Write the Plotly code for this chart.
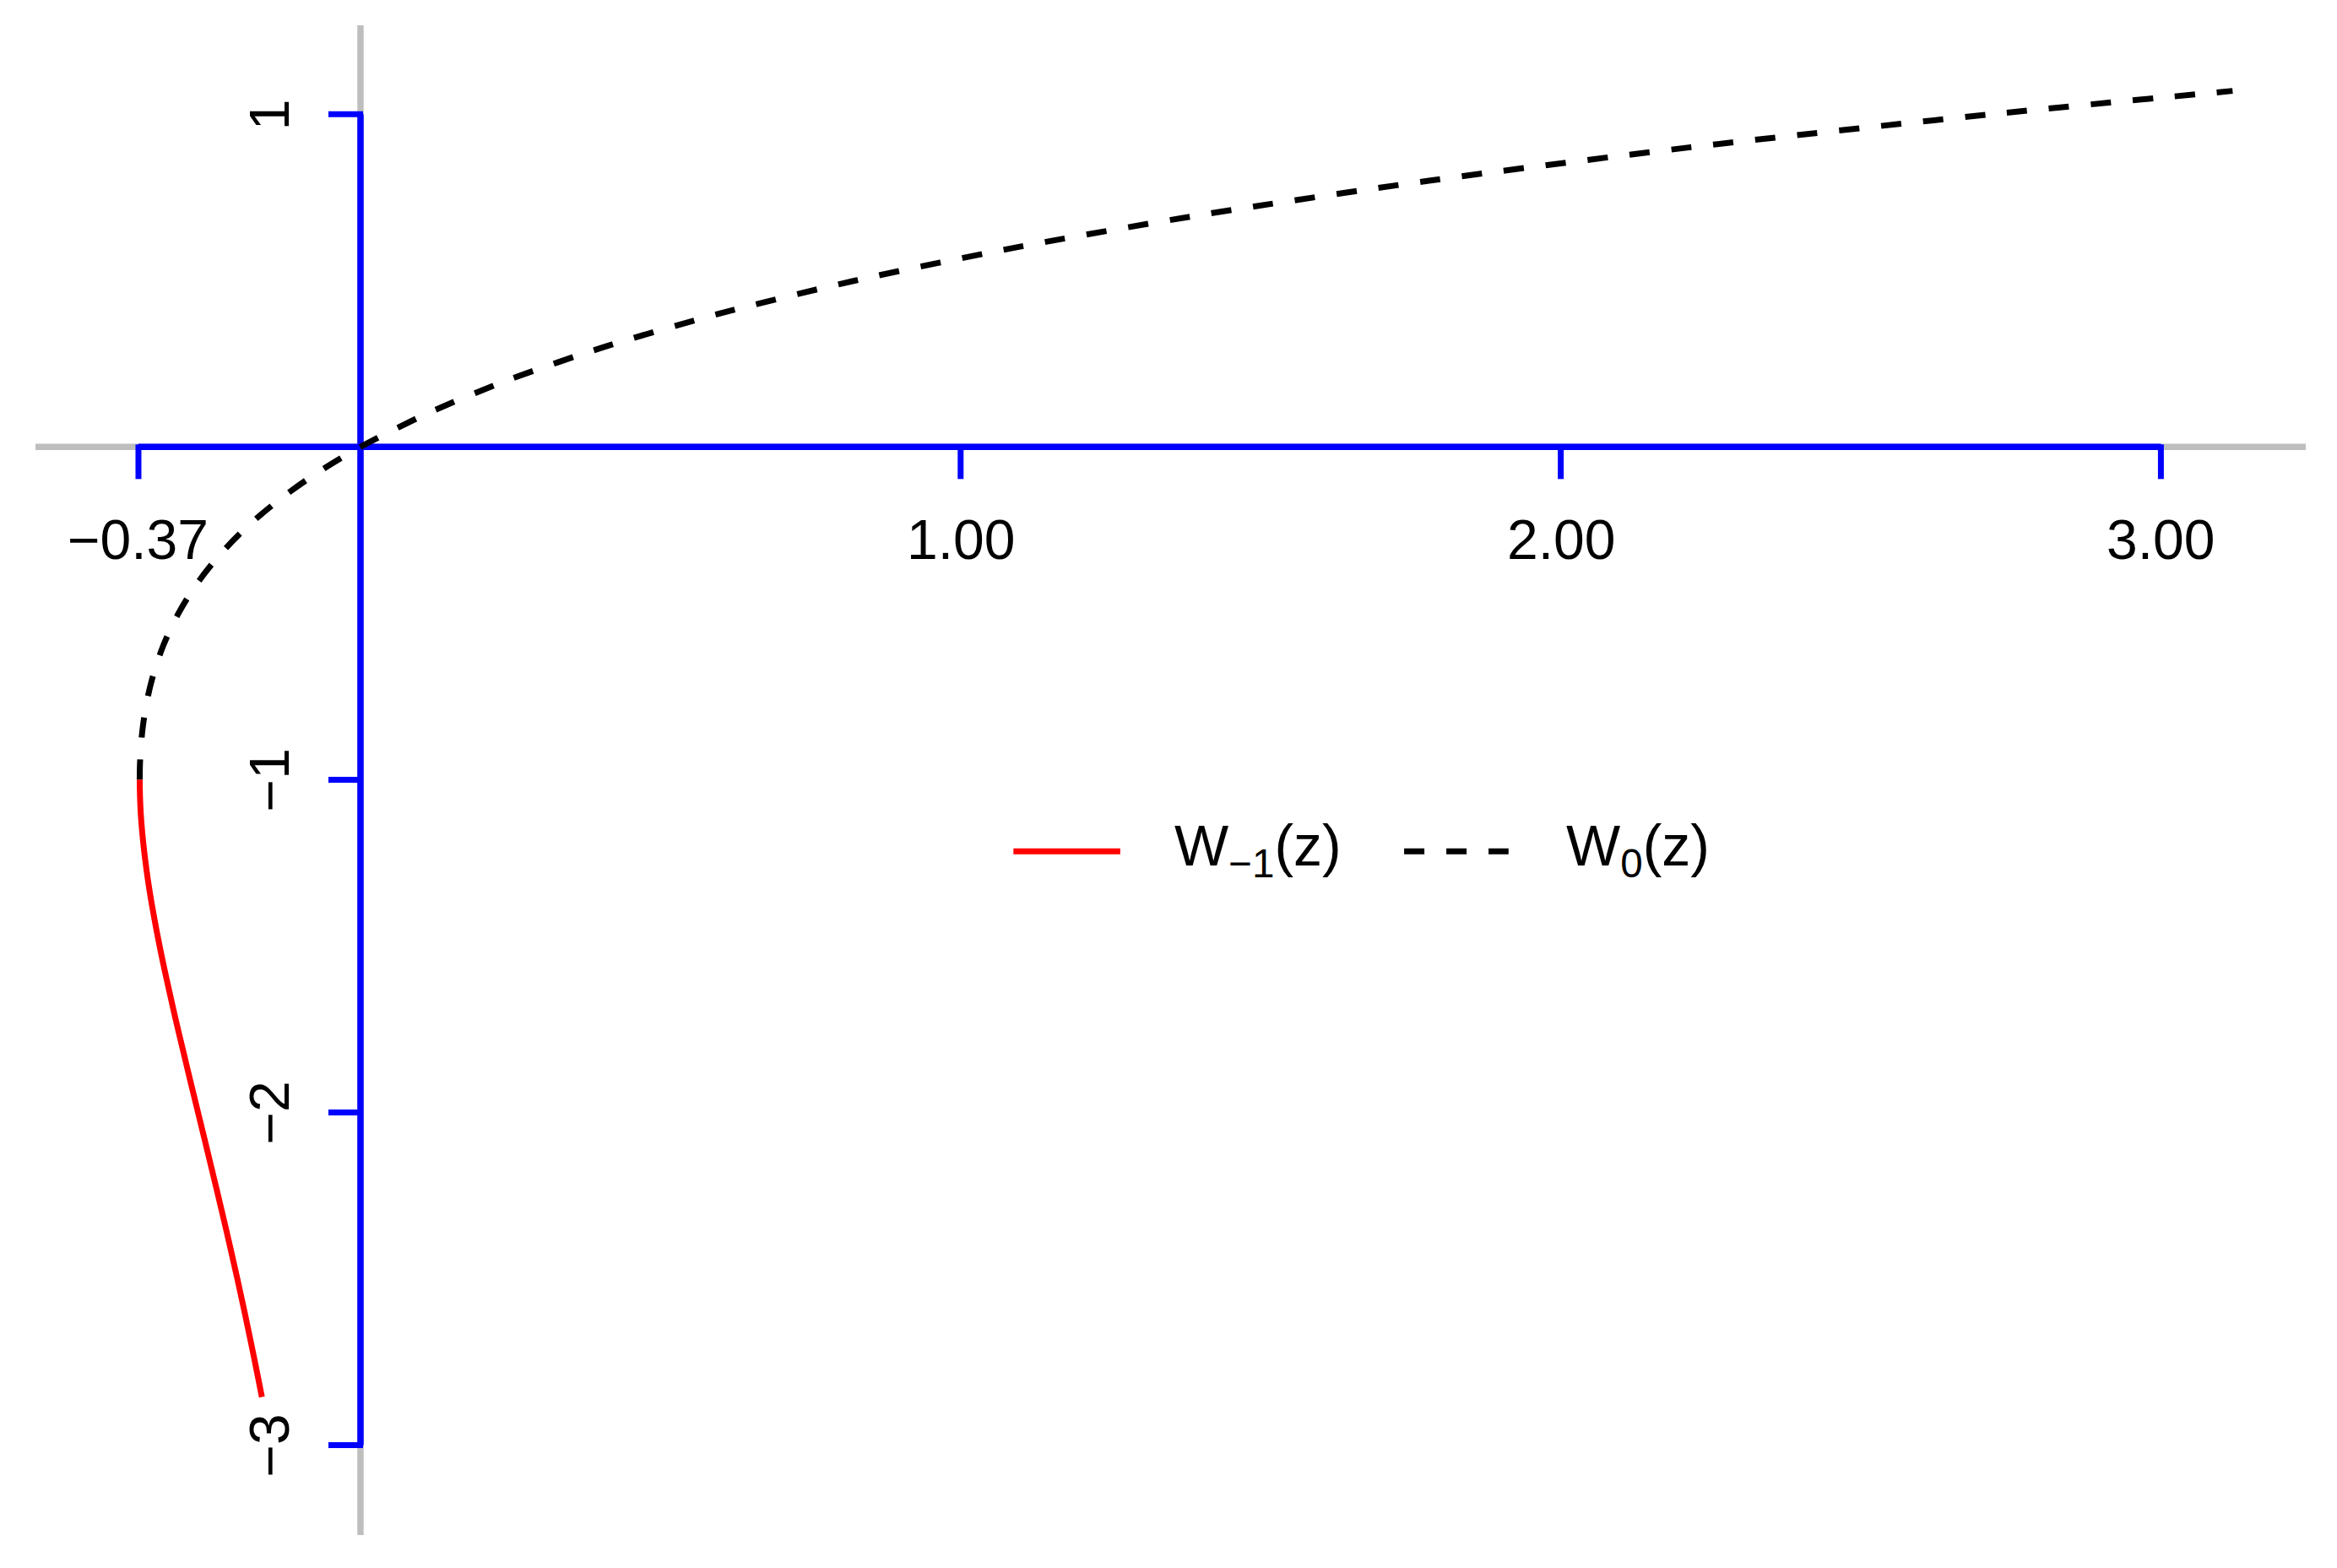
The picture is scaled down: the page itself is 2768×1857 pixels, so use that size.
import plotly.graph_objects as go

# ---- data ----
# principal branch W0(z): z values and W values
w0_z = [-0.3679, -0.3678, -0.3674, -0.3659, -0.3633, -0.3595, -0.3543, -0.3476, -0.3393,
        -0.3293, -0.3173, -0.3033, -0.2869, -0.2681, -0.2466, -0.2222, -0.1947,
        -0.1637, -0.1291, -0.0905, -0.0476, 0.0, 0.1105, 0.2443, 0.4050, 0.5967,
        0.8244, 1.0933, 1.4096, 1.7804, 2.2136, 2.7183, 3.1195]
w0_w = [-1.0, -0.98, -0.95, -0.9, -0.85, -0.8, -0.75, -0.7, -0.65,
        -0.6, -0.55, -0.5, -0.45, -0.4, -0.35, -0.3, -0.25,
        -0.2, -0.15, -0.1, -0.05, 0.0, 0.1, 0.2, 0.3, 0.4,
        0.5, 0.6, 0.7, 0.8, 0.9, 1.0, 1.07]

# lower branch W-1(z)
wm1_z = [-0.3679, -0.3674, -0.3662, -0.3641, -0.3614, -0.3543, -0.3452, -0.3347,
         -0.3230, -0.3106, -0.2975, -0.2842, -0.2707, -0.2572, -0.2438, -0.2306,
         -0.2177, -0.2052, -0.1931, -0.1815, -0.1703, -0.1643]
wm1_w = [-1.0, -1.05, -1.1, -1.15, -1.2, -1.3, -1.4, -1.5,
         -1.6, -1.7, -1.8, -1.9, -2.0, -2.1, -2.2, -2.3,
         -2.4, -2.5, -2.6, -2.7, -2.8, -2.855]

x_ticks = [-0.37, 1.0, 2.0, 3.0]
x_tick_labels = ["\u22120.37", "1.00", "2.00", "3.00"]
y_ticks = [1, -1, -2, -3]
y_tick_labels = ["1", "\u22121", "\u22122", "\u22123"]

legend_labels = ["W<sub>\u22121</sub>(z)", "W<sub>0</sub>(z)"]

# ---- styling ----
FONT = "Liberation Sans, Arial, Helvetica, sans-serif"
FS = 66
LW = 7.5
CW = 7
BLUE = "#0000FF"
GREY = "#BEBEBE"
DASH = "24px,26px"

fig = go.Figure()

fig.add_trace(go.Scatter(x=w0_z, y=w0_w, mode="lines", name="W0(z)",
                         line=dict(color="black", width=CW, dash=DASH, shape="spline", smoothing=0.8),
                         showlegend=False, hoverinfo="skip"))
fig.add_trace(go.Scatter(x=wm1_z, y=wm1_w, mode="lines", name="W-1(z)",
                         line=dict(color="#FF0000", width=CW, shape="spline", smoothing=1.0),
                         showlegend=False, hoverinfo="skip"))

shapes = []
# grey reference lines through the origin across whole plot region
shapes.append(dict(type="line", xref="paper", yref="y", x0=0, x1=1, y0=0, y1=0,
                   line=dict(color=GREY, width=LW), layer="below"))
shapes.append(dict(type="line", xref="x", yref="paper", x0=0, x1=0, y0=0, y1=1,
                   line=dict(color=GREY, width=LW), layer="below"))
# blue axes positioned at zero
shapes.append(dict(type="line", xref="x", yref="y", x0=min(x_ticks), x1=max(x_ticks), y0=0, y1=0,
                   line=dict(color=BLUE, width=LW), layer="below"))
shapes.append(dict(type="line", xref="x", yref="y", x0=0, x1=0, y0=min(y_ticks), y1=max(y_ticks),
                   line=dict(color=BLUE, width=LW), layer="below"))
TL = 38
for xv in x_ticks:
    shapes.append(dict(type="line", xref="x", yref="y", ysizemode="pixel", yanchor=0,
                       x0=xv, x1=xv, y0=3, y1=-TL,
                       line=dict(color=BLUE, width=LW - 0.5), layer="below"))
for yv in y_ticks:
    shapes.append(dict(type="line", xref="x", yref="y", xsizemode="pixel", xanchor=0,
                       x0=3, x1=-TL, y0=yv, y1=yv,
                       line=dict(color=BLUE, width=LW - 0.5), layer="below"))

annotations = []
for xv, lab in zip(x_ticks, x_tick_labels):
    annotations.append(dict(x=xv, y=0, xref="x", yref="y", text=lab, showarrow=False,
                            xanchor="center", yanchor="middle", yshift=-110,
                            font=dict(family=FONT, size=FS, color="black")))
for yv, lab in zip(y_ticks, y_tick_labels):
    annotations.append(dict(x=0, y=yv, xref="x", yref="y", text=lab, showarrow=False,
                            xanchor="center", yanchor="middle", xshift=-108, textangle=-90,
                            font=dict(family=FONT, size=FS, color="black")))

# legend (drawn manually, centred, no box)
LEG_Y = -1.215
shapes.append(dict(type="line", xref="x", yref="y", x0=1.088, x1=1.266, y0=LEG_Y, y1=LEG_Y,
                   line=dict(color="#FF0000", width=CW)))
shapes.append(dict(type="line", xref="x", yref="y", x0=1.739, x1=1.913, y0=LEG_Y, y1=LEG_Y,
                   line=dict(color="black", width=CW, dash=DASH)))
annotations.append(dict(x=1.353, y=LEG_Y, xref="x", yref="y", text=legend_labels[0],
                        showarrow=False, xanchor="left", yanchor="middle", yshift=2,
                        font=dict(family=FONT, size=68, color="black")))
annotations.append(dict(x=2.006, y=LEG_Y, xref="x", yref="y", text=legend_labels[1],
                        showarrow=False, xanchor="left", yanchor="middle", yshift=2,
                        font=dict(family=FONT, size=68, color="black")))

# page body has an 8px default margin, so the figure origin sits at (8, 8)
fig.update_layout(
    width=2768, height=1857,
    margin=dict(l=34, r=45, t=22, b=47, pad=0),
    paper_bgcolor="white", plot_bgcolor="white",
    xaxis=dict(range=[-0.5416, 3.2414], visible=False, fixedrange=True),
    yaxis=dict(range=[-3.270, 1.267], visible=False, fixedrange=True),
    shapes=shapes, annotations=annotations,
    showlegend=False,
)

fig.write_html("out.html")
